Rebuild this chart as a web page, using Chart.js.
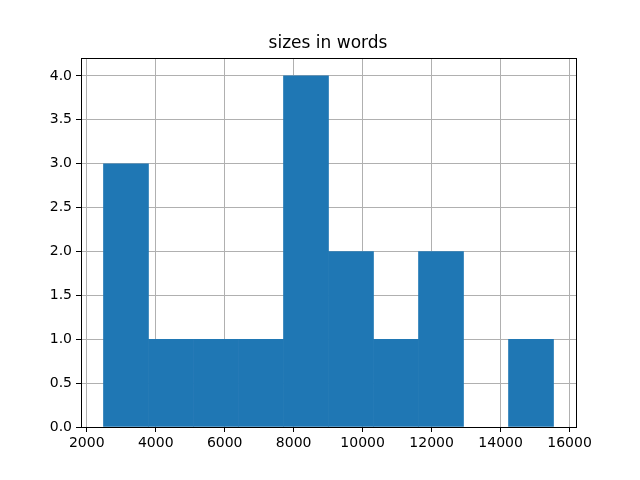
<!DOCTYPE html>
<html>
<head>
<meta charset="utf-8">
<script src="https://cdn.jsdelivr.net/npm/chart.js@4/dist/chart.umd.min.js"></script>
<style>
  html, body { margin: 0; padding: 0; background: #fff; }
  canvas { display: block; }
</style>
</head>
<body>
<canvas id="chart" width="640" height="480"></canvas>
<script>
// histogram bins (edges) and counts
const binEdges = [2485, 3790, 5095, 6400, 7705, 9010, 10315, 11620, 12925, 14230, 15535];
const counts   = [3, 1, 1, 1, 4, 2, 1, 2, 0, 1];
const xTicks   = [2000, 4000, 6000, 8000, 10000, 12000, 14000, 16000];
const yTicks   = [0, 0.5, 1, 1.5, 2, 2.5, 3, 3.5, 4];

const FONT = 'DejaVu Sans';

// ── frame around plot area (matplotlib spines) ───────────────────────────────
const frame = {
  id: 'frame',
  afterDraw(chart) {
    const { ctx, chartArea: a } = chart;
    ctx.save();
    ctx.strokeStyle = '#000';
    ctx.lineWidth = 1;
    ctx.strokeRect(Math.round(a.left) + 0.5, Math.round(a.top) + 0.5,
                   Math.round(a.right - a.left), Math.round(a.bottom - a.top));
    ctx.restore();
  },
};

const ctx = document.getElementById('chart').getContext('2d');
new Chart(ctx, {
  type: 'bar',
  data: {
    datasets: [{
      // empty bins get null so nothing is painted for them
      data: counts.map((c, i) => ({ x: (binEdges[i] + binEdges[i + 1]) / 2, y: c || null })),
      backgroundColor: '#1f77b4',
      borderWidth: 0,
      barPercentage: 1.0,
      categoryPercentage: 1.0,
    }],
  },
  options: {
    responsive: false,
    animation: false,
    events: [],
    layout: { padding: { left: 16, right: 0, top: 0, bottom: 0 } },
    scales: {
      x: {
        type: 'linear',
        offset: false,
        min: 1833,
        max: 16187,
        z: 1,
        afterBuildTicks: s => { s.ticks = xTicks.map(v => ({ value: v })); },
        afterFit: s => { s.height = 53; },
        ticks: { color: '#000', font: { family: FONT, size: 14 }, padding: 3, maxRotation: 0,
                 autoSkip: false, callback: v => String(v) },
        grid: { color: '#b0b0b0', tickColor: '#000', tickLength: 5, lineWidth: 1, offset: false },
        border: { display: false },
      },
      y: {
        min: 0,
        max: 4.2,
        z: 1,
        afterBuildTicks: s => { s.ticks = yTicks.map(v => ({ value: v })); },
        afterFit: s => { s.width = 65; },
        ticks: { color: '#000', font: { family: FONT, size: 14 }, padding: 4, callback: v => v.toFixed(1) },
        grid: { color: '#b0b0b0', tickColor: '#000', tickLength: 5, lineWidth: 1 },
        border: { display: false },
      },
      // empty right-hand axis that only reserves the margin right of the plot
      yRight: {
        position: 'right',
        display: true,
        ticks: { display: false },
        grid: { display: false },
        border: { display: false },
        afterFit: s => { s.width = 64; },
      },
    },
    plugins: {
      legend: { display: false },
      tooltip: { enabled: false },
      title: {
        display: true,
        text: 'sizes in words',
        color: '#000',
        font: { family: FONT, size: 17, weight: 'normal' },
        padding: { top: 33, bottom: 5 },
      },
    },
  },
  plugins: [frame],
});
</script>
</body>
</html>
